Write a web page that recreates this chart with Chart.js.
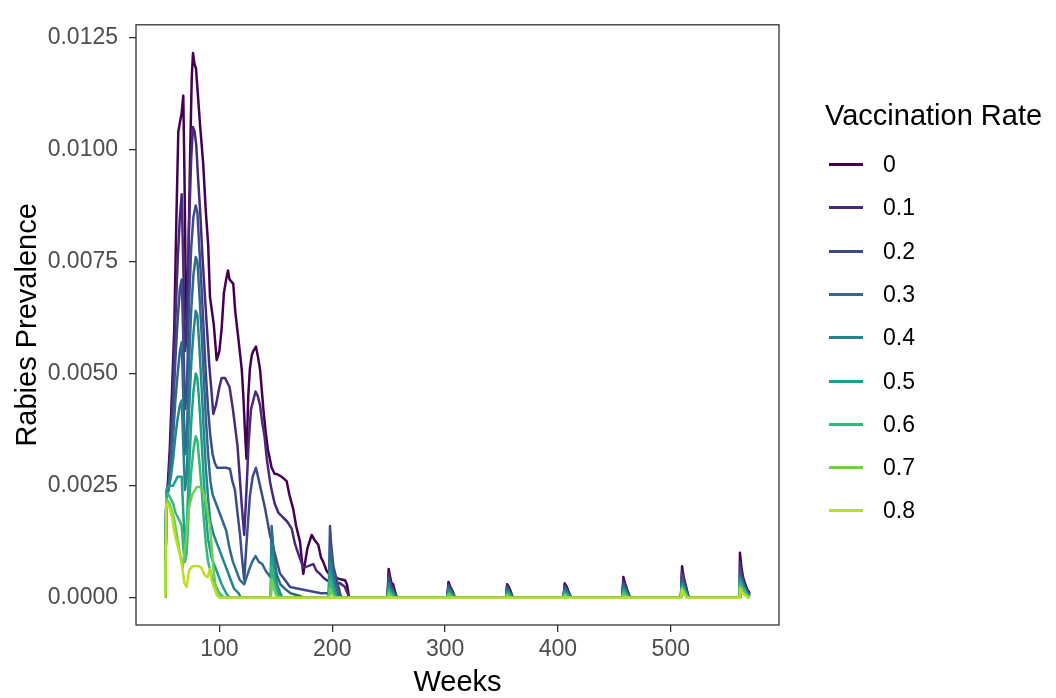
<!DOCTYPE html>
<html>
<head>
<meta charset="utf-8">
<script src="https://cdn.jsdelivr.net/npm/chart.js@4.4.1/dist/chart.umd.min.js"></script>
<style>
  body { margin: 0; background: #fff; font-family: "Liberation Sans", Arial, sans-serif; }
  #wrap { position: relative; width: 1056px; height: 698px; }
  #legend { position: absolute; left: 825px; top: 96px; color: #000; }
  #legend .title { font-size: 29px; line-height: 38px; white-space: nowrap; }
  #legend .item { position: absolute; left: 4px; height: 30px; width: 200px; }
  #legend .key { position: absolute; left: 0; top: 14px; width: 34px; height: 3px; }
  #legend .lab { position: absolute; left: 54px; top: 0; font-size: 23px; line-height: 30px; }
</style>
</head>
<body>
<div id="wrap">
  <canvas id="rabiesChart" width="1056" height="698"></canvas>
  <div id="legend"></div>
</div>
<script>
// vaccination rates (legend) and colours
const rates = ['0', '0.1', '0.2', '0.3', '0.4', '0.5', '0.6', '0.7', '0.8'];
const colores = ['#440154', '#472A7A', '#3E4B8A', '#31688E', '#25848E', '#1FA088', '#35B779', '#6ECE58', '#BBDF27'];

const xTicks = [100, 200, 300, 400, 500];
const yTicks = [0, 0.0025, 0.005, 0.0075, 0.01, 0.0125];

// [week, prevalence]
const r00 = [[52,0],[53,0.0023],[54,0.0024],[56,0.0033],[58,0.0046],[60,0.006],[62,0.0086],[63.6,0.0104],[65,0.0106],[66.5,0.0108],[68,0.0112],
  [69,0.0095],[70.5,0.0062],[72,0.0068],[74,0.0098],[75.5,0.0116],[76.6,0.01215],[78,0.0119],[79.3,0.0118],[81,0.0112],[83,0.0105],[85.6,0.0097],
  [88,0.0086],[90,0.0079],[91.7,0.0067],[95,0.0061],[97.6,0.0053],[100,0.0055],[102,0.006],[104,0.0068],[106,0.0071],[107.6,0.0073],[109,0.0071],
  [112.3,0.007],[114,0.0064],[116.7,0.0058],[119.8,0.0051],[121.2,0.0045],[122.7,0.0037],[124,0.0031],[125.6,0.0045],[127,0.0051],[128.6,0.0054],
  [130,0.0055],[132.4,0.0056],[134,0.0054],[136,0.0051],[139,0.0042],[141,0.0037],[143,0.0033],[146.3,0.0029],[149,0.00276],[151,0.00276],
  [155,0.0027],[159.6,0.0026],[162,0.0023],[165.5,0.00197],[168,0.0016],[171.4,0.00125],[174.3,0.00053],[176,0.0008],[178,0.0011],[181.8,0.0014],
  [184,0.0013],[187.6,0.00118],[190,0.0009],[192,0.0008],[195,0.0006],[198,0.0005],[202.4,0.00046],[206,0.00042],[211.3,0.00039],[213,0.0003],
  [215,0],[249,0],[250,0.00064],[251,0.0005],[252.5,0.00033],[254,0.0003],[256,0.0001],[257.5,0],[302,0],[303,0.00035],[304.5,0.00025],
  [306,0.00018],[308,0.00005],[309,0],[354,0],[355,0.0003],[356.5,0.00024],[358,0.00015],[360,0],[405,0],[406,0.00032],[407.5,0.00026],
  [409,0.00016],[411,0.00004],[412,0],[457,0],[458,0.00046],[459.5,0.00032],[461,0.0002],[463,0.00006],[464,0],[509,0],[510,0.0007],
  [511.5,0.00045],[513,0.0003],[515,0.0001],[516,0],[560.5,0],[561.3,0.001],[562.5,0.0007],[564,0.00046],[566,0.0003],[568,0.00017],[570,0.0001]];

const r01 = [[52,0],[53,0.0023],[55,0.0026],[57,0.0035],[59,0.0048],[61,0.0062],[63,0.0075],[65,0.0085],[66.6,0.009],[68,0.0074],[69.5,0.0055],
  [71,0.0058],[73,0.0082],[75,0.0098],[76.6,0.0105],[78,0.0104],[79.5,0.0101],[81,0.0094],[83,0.0086],[85,0.0076],[87,0.0068],[89,0.006],
  [91,0.0052],[93,0.0046],[94.6,0.0041],[97,0.0043],[100,0.0047],[102,0.0049],[105,0.0049],[107,0.0048],[109,0.0047],[112,0.0042],[114,0.0038],
  [116,0.0034],[118,0.0027],[120,0.002],[122,0.0014],[124,0.0024],[126,0.0035],[128,0.0042],[130,0.0044],[132,0.0046],[134,0.0045],[136,0.0043],
  [138,0.0039],[140,0.0036],[142,0.0031],[144.8,0.0026],[146.3,0.0024],[149,0.0021],[152.2,0.0019],[156,0.0018],[160,0.0017],[164.1,0.00154],
  [167,0.0012],[171,0.0009],[174.4,0.00067],[178,0.0007],[183.2,0.00075],[186,0.0006],[189.1,0.00053],[192,0.00045],[195.1,0.00039],
  [200,0.00035],[206.9,0.00032],[211,0.00025],[214.2,0.00006],[215,0],[249,0],[250,0.00055],[251,0.00042],[252.5,0.00028],[254,0.00022],
  [256,0.00006],[257,0],[302,0],[303,0.0003],[304.5,0.00022],[306,0.00015],[308,0.00004],[309,0],[354,0],[355,0.00027],[356.5,0.0002],
  [358,0.00012],[360,0],[405,0],[406,0.00029],[407.5,0.00022],[409,0.00014],[411,0.00003],[412,0],[457,0],[458,0.0004],[459.5,0.00028],
  [461,0.00017],[463,0.00005],[464,0],[509,0],[510,0.0006],[511.5,0.0004],[513,0.00026],[515,0.00008],[516,0],[560.5,0],[561.3,0.0008],
  [562.5,0.00058],[564,0.0004],[566,0.00026],[568,0.00014],[570,0.00008]];

const r02 = [[52,0],[53,0.0023],[55,0.0025],[57,0.0032],[59,0.0042],[61,0.0053],[63,0.0062],[65,0.0069],[66.6,0.0071],[68,0.0058],[69.5,0.0042],
  [71,0.0045],[73,0.0065],[75,0.0078],[77,0.0085],[79,0.00875],[80.5,0.0086],[82,0.0079],[84,0.007],[86,0.006],[88,0.005],[90,0.0042],
  [92,0.0036],[94,0.0032],[96,0.003],[98,0.0029],[100.5,0.0029],[103,0.0029],[106,0.0029],[109.4,0.00287],[111.5,0.0026],[113.8,0.0024],
  [116,0.0019],[118.3,0.0014],[120,0.0009],[122,0.0004],[124,0.0012],[127,0.00226],[129.5,0.0027],[132.4,0.0029],[136,0.0025],[140.4,0.002],
  [144.8,0.0014],[149.3,0.00097],[153.7,0.00054],[158,0.0004],[162.6,0.00024],[170,0.0002],[180,0.00015],[190,0.0001],[197,0.0001],
  [198,0.0016],[199,0.0012],[201,0.0007],[203,0.0005],[205,0.0003],[207,0.0001],[208,0],[249,0],[250,0.00045],[251,0.00034],[252.5,0.00022],
  [254,0.00016],[256,0.00004],[257,0],[302,0],[303,0.00027],[304.5,0.0002],[306,0.00012],[308,0.00003],[309,0],[354,0],[355,0.00024],
  [356.5,0.00017],[358,0.0001],[360,0],[405,0],[406,0.00025],[407.5,0.00019],[409,0.00011],[411,0.00002],[412,0],[457,0],[458,0.00033],
  [459.5,0.00024],[461,0.00014],[463,0.00004],[464,0],[509,0],[510,0.0005],[511.5,0.00034],[513,0.00022],[515,0.00006],[516,0],[560.5,0],
  [561.3,0.00065],[562.5,0.00048],[564,0.00034],[566,0.00022],[568,0.00012],[570,0.00006]];

const r03 = [[52,0],[53,0.0023],[55,0.0024],[57,0.0029],[59,0.0036],[61,0.0044],[63,0.005],[65,0.0055],[66.6,0.0057],[68,0.0045],[69.5,0.0032],
  [71,0.0035],[73,0.0052],[75,0.0064],[77,0.0072],[79,0.0076],[80.5,0.0075],[82,0.0069],[84,0.006],[86,0.005],[88,0.004],[90,0.0032],
  [92,0.0026],[94,0.0023],[97,0.0021],[100,0.0019],[103,0.0017],[106,0.0015],[109,0.0011],[112,0.0008],[114,0.00067],[118,0.0004],
  [122,0.0003],[126,0.0006],[129,0.0008],[132,0.00093],[135,0.0008],[138,0.00075],[141,0.0006],[144,0.0005],[145.5,0.00045],[146.3,0.0016],
  [147.5,0.0012],[149,0.0008],[151,0.0005],[154,0.0003],[158,0.0002],[163,0.0001],[170,0.00005],[175,0],[197,0],[198,0.0011],[199.5,0.0008],
  [201,0.0005],[203,0.0003],[205,0.0001],[207,0],[249,0],[250,0.00035],[251,0.00026],[252.5,0.00017],[254,0.00012],[256,0.00003],[257,0],
  [302,0],[303,0.00022],[304.5,0.00016],[306,0.0001],[308,0.00002],[309,0],[354,0],[355,0.0002],[356.5,0.00014],[358,0.00008],[360,0],
  [405,0],[406,0.0002],[407.5,0.00015],[409,0.00009],[411,0.00002],[412,0],[457,0],[458,0.00027],[459.5,0.0002],[461,0.00012],[463,0.00003],
  [464,0],[509,0],[510,0.0004],[511.5,0.00028],[513,0.00018],[515,0.00005],[516,0],[560.5,0],[561.3,0.0005],[562.5,0.0004],[564,0.0003],
  [566,0.0002],[568,0.0001],[570,0.00005]];

const r04 = [[52,0],[53,0.0023],[55,0.0024],[57,0.0027],[59,0.0031],[61,0.0036],[63,0.004],[65,0.0043],[66.6,0.0044],[68,0.0034],[69.5,0.0024],
  [71,0.0027],[73,0.0041],[75,0.0052],[77,0.0059],[79,0.0064],[80.5,0.0063],[82,0.0057],[84,0.0048],[86,0.0038],[88,0.0029],[90,0.0022],
  [92,0.0017],[95,0.0014],[98,0.0012],[101,0.001],[104,0.0008],[107,0.0006],[110,0.0004],[113,0.0002],[117,0.0001],[119,0],[145.5,0],
  [146.3,0.0012],[147.5,0.0009],[149,0.0006],[151,0.0003],[154,0.0001],[156,0],[197,0],[198,0.0008],[199.5,0.0005],[201,0.0003],[203,0.0001],
  [205,0],[249,0],[250,0.0003],[251,0.00022],[252.5,0.00014],[254,0.0001],[256,0.00002],[257,0],[302,0],[303,0.00018],[304.5,0.00013],
  [306,0.00008],[308,0.00002],[309,0],[354,0],[355,0.00016],[356.5,0.00011],[358,0.00006],[360,0],[405,0],[406,0.00016],[407.5,0.00012],
  [409,0.00007],[411,0.00001],[412,0],[457,0],[458,0.00022],[459.5,0.00016],[461,0.0001],[463,0.00002],[464,0],[509,0],[510,0.00033],
  [511.5,0.00024],[513,0.00015],[515,0.00004],[516,0],[560.5,0],[561.3,0.00045],[562.5,0.00036],[564,0.00027],[566,0.00018],[568,0.00009],
  [570,0.00004]];

const r05 = [[52,0],[53,0.0024],[55,0.0025],[57,0.0025],[59,0.0025],[61,0.0026],[63,0.0027],[65,0.0027],[66.6,0.0027],[68,0.0019],[69.5,0.0012],
  [71,0.0015],[73,0.0028],[75,0.0039],[77,0.0046],[79,0.005],[80.5,0.0049],[82,0.0044],[84,0.0036],[86,0.0027],[88,0.0019],[90,0.0013],
  [93,0.0009],[96,0.0007],[99,0.0005],[102,0.0003],[106,0.0001],[109,0],[145.5,0],[146.3,0.0009],[147.5,0.0007],[149,0.0004],[151,0.0002],
  [154,0.00005],[155,0],[197,0],[198,0.0006],[199.5,0.0004],[201,0.0002],[203,0.00005],[204,0],[249,0],[250,0.00022],[251,0.00016],
  [252.5,0.0001],[254,0.00006],[256,0],[302,0],[303,0.00014],[304.5,0.0001],[306,0.00006],[308,0],[354,0],[355,0.00012],[356.5,0.00008],
  [358,0.00004],[360,0],[405,0],[406,0.00012],[407.5,0.00009],[409,0.00005],[411,0],[457,0],[458,0.00018],[459.5,0.00013],[461,0.00008],
  [463,0.00001],[464,0],[509,0],[510,0.00028],[511.5,0.0002],[513,0.00012],[515,0.00003],[516,0],[560.5,0],[561.3,0.0004],[562.5,0.00032],
  [564,0.00024],[566,0.00015],[568,0.00007],[570,0.00003]];

const r06 = [[52,0],[53,0.0023],[55,0.0023],[57,0.0022],[59,0.0021],[61,0.0019],[63,0.0018],[65,0.0017],[66.6,0.0016],[68,0.0011],[69.5,0.0008],
  [71,0.001],[73,0.002],[75,0.0028],[77,0.0033],[79,0.0036],[80.5,0.0035],[82,0.0031],[84,0.0025],[86,0.0018],[88,0.0012],[90,0.0008],
  [93,0.0005],[96,0.0003],[100,0.0001],[104,0],[145.5,0],[146.3,0.0007],[147.5,0.0005],[149,0.0003],[151,0.0001],[153,0],[197,0],
  [198,0.0004],[199.5,0.00025],[201,0.00012],[203,0],[249,0],[250,0.00017],[251,0.00012],[252.5,0.00007],[254,0.00003],[255,0],[302,0],
  [303,0.0001],[304.5,0.00007],[306,0.00004],[308,0],[354,0],[355,0.00009],[356.5,0.00006],[358,0.00002],[359,0],[405,0],[406,0.00009],
  [407.5,0.00006],[409,0.00003],[410,0],[457,0],[458,0.00013],[459.5,0.0001],[461,0.00005],[463,0],[509,0],[510,0.00024],[511.5,0.00017],
  [513,0.0001],[515,0.00002],[516,0],[560.5,0],[561.3,0.00032],[562.5,0.00026],[564,0.0002],[566,0.00012],[568,0.00005],[570,0.00002]];

const r07 = [[52,0],[53,0.0022],[56,0.0021],[60,0.00175],[63,0.0013],[65,0.001],[67.5,0.00067],[70,0.0012],[72.8,0.002],[76,0.0023],
  [80,0.00247],[82.8,0.00247],[85,0.0024],[87.2,0.00226],[89.5,0.0019],[91.7,0.0016],[94.6,0.00067],[97,0.0002],[99,0.0001],[100.5,0],
  [145.5,0],[146.3,0.0004],[147.5,0.0003],[149,0.00015],[151,0],[197,0],[198,0.0002],[199.5,0.00012],[201,0.00004],[202,0],[249,0],
  [250,0.0001],[251,0.00007],[252.5,0.00003],[254,0],[302,0],[303,0.00007],[304.5,0.00004],[306,0],[354,0],[355,0.00006],[356.5,0.00003],
  [358,0],[405,0],[406,0.00006],[407.5,0.00003],[409,0],[457,0],[458,0.00008],[459.5,0.00005],[461,0.00002],[462,0],[509,0],[510,0.0002],
  [511.5,0.00014],[513,0.00008],[515,0.00001],[516,0],[560.5,0],[561.3,0.00025],[562.5,0.0002],[564,0.00015],[566,0.00008],[568,0.00003],
  [570,0.00001]];

const r08 = [[52,0],[53,0.0021],[56,0.002],[58,0.0018],[60,0.00147],[62.5,0.0012],[65,0.00096],[67,0.0007],[69,0.00032],[71,0.00024],
  [73,0.0006],[76,0.0007],[79.3,0.00071],[82,0.0007],[84,0.00067],[87,0.0005],[89.5,0.00046],[91.7,0.00064],[93,0.0004],[96,0.00017],
  [98,0.00005],[100.5,0],[509,0],[510,0.00017],[511,0.0001],[513,0.00003],[514,0],[560.5,0],[561.3,0.0002],[563,0.00012],[566,0.00005],
  [568,0],[570,0]];

const series = [r00, r01, r02, r03, r04, r05, r06, r07, r08];

// legend (ggplot style, on the right)
const legend = document.getElementById('legend');
legend.innerHTML = '<div class="title">Vaccination Rate</div>' + rates.map((r, i) =>
  '<div class="item" style="top:' + Math.round(53 + i * 43.3) + 'px"><div class="key" style="background:' + colores[i] +
  '"></div><div class="lab">' + r + '</div></div>').join('');

// full panel border, like theme_bw
const panelBorder = {
  id: 'panelBorder',
  afterDraw(chart) {
    const a = chart.chartArea;
    const c = chart.ctx;
    c.save();
    c.strokeStyle = '#333333';
    c.lineWidth = 1.3;
    c.strokeRect(a.left, a.top, a.right - a.left, a.bottom - a.top);
    c.restore();
  }
};

const fuente = { family: '"Liberation Sans", Arial, sans-serif' };

const ctx = document.getElementById('rabiesChart').getContext('2d');
new Chart(ctx, {
  type: 'line',
  data: {
    datasets: series.map((s, i) => ({
      label: rates[i],
      data: s,
      borderColor: colores[i],
      backgroundColor: colores[i],
      borderWidth: 2.5,
      pointRadius: 0,
      tension: 0,
      fill: false,
      borderJoinStyle: 'round',
      order: series.length - i
    }))
  },
  options: {
    responsive: false,
    animation: false,
    events: [],
    layout: { padding: { top: 5, right: 277, left: 0, bottom: 0 } },
    plugins: {
      legend: { display: false },
      tooltip: { enabled: false }
    },
    scales: {
      x: {
        type: 'linear',
        min: 26.1,
        max: 595.9,
        afterFit: s => { s.height = 73; },
        afterBuildTicks: s => { s.ticks = xTicks.map(v => ({ value: v })); },
        grid: { display: true, drawOnChartArea: false, drawTicks: true, tickLength: 7, color: '#333333', lineWidth: 1.3 },
        border: { display: false },
        ticks: { color: '#4D4D4D', font: { ...fuente, size: 23 }, padding: 4, maxRotation: 0, callback: v => String(v) },
        title: { display: true, text: 'Weeks', color: '#000', font: { ...fuente, size: 29, lineHeight: 1 }, padding: { top: 0, bottom: 1 } }
      },
      y: {
        type: 'linear',
        min: -0.000609,
        max: 0.01278,
        afterFit: s => { s.width = 136; },
        afterBuildTicks: s => { s.ticks = yTicks.map(v => ({ value: v })); },
        grid: { display: true, drawOnChartArea: false, drawTicks: true, tickLength: 7, color: '#333333', lineWidth: 1.3 },
        border: { display: false },
        ticks: { color: '#4D4D4D', font: { ...fuente, size: 23 }, padding: 11, callback: v => v.toFixed(4) },
        title: { display: true, text: 'Rabies Prevalence', color: '#000', font: { ...fuente, size: 29, lineHeight: 1 }, padding: { top: 13, bottom: 0 } }
      }
    }
  },
  plugins: [panelBorder]
});
</script>
</body>
</html>
